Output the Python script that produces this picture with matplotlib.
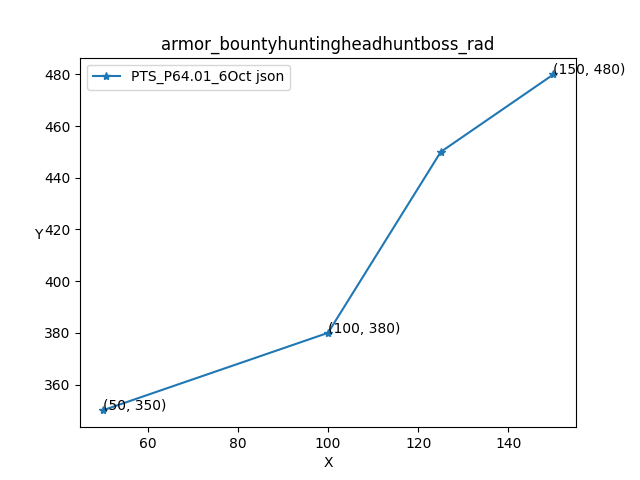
import matplotlib
matplotlib.use('Agg')
import matplotlib.pyplot as plt

x_vals = [50, 100, 125, 150]
y_vals = [350, 380, 450, 480]
labelled = [(50, 350), (100, 380), (150, 480)]

fig, ax = plt.subplots(figsize=(6.4, 4.8), dpi=100)
ax.plot(x_vals, y_vals, marker='*', label='PTS_P64.01_6Oct json')
for px, py in labelled:
    ax.annotate(f'({px}, {py})', (px, py))
ax.set_title('armor_bountyhuntingheadhuntboss_rad')
ax.set_xlabel('X')
ax.set_ylabel('Y', rotation=0)
ax.legend(loc='upper left')
fig.savefig('out.png')
